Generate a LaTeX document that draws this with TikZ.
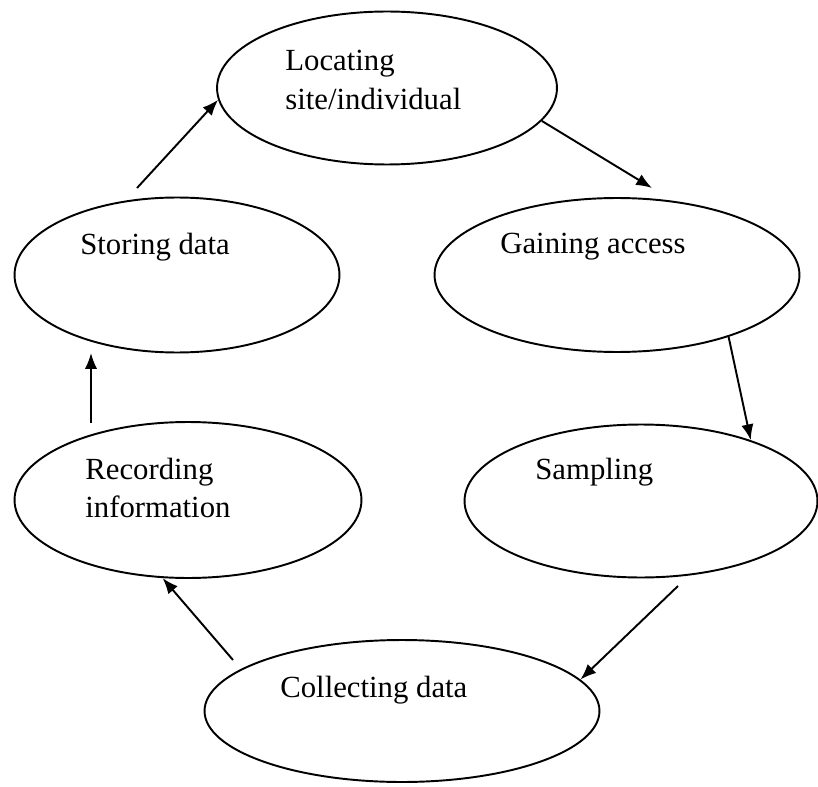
\documentclass[tikz,border=0pt]{standalone}
\usepackage{fontspec}
\setmainfont{Liberation Serif}
\usetikzlibrary{shapes,arrows.meta}
\tikzstyle{stage} = [ellipse, draw=black, line width=1.1pt, inner sep=0pt]
\tikzstyle{caption} = [anchor=west, align=left, inner sep=0pt,
    font=\fontsize{17.5}{22}\selectfont]
\tikzstyle{arrow} = [line width=1.1pt,-{Latex[length=9pt,width=7pt]}]

\begin{document}
\begin{tikzpicture}[x=0.02cm, y=-0.02cm]
\useasboundingbox (0,0) rectangle (818,787);

\node (Loc) [stage, minimum width=6.8cm, minimum height=3.06cm] at (387,88) {};
\node (Store) [stage, minimum width=6.5cm, minimum height=3.1cm] at (177,275) {};
\node (Gain) [stage, minimum width=7.3cm, minimum height=3.08cm] at (617,275) {};
\node (Rec) [stage, minimum width=6.94cm, minimum height=3.12cm] at (188,500) {};
\node (Samp) [stage, minimum width=7.06cm, minimum height=3.06cm] at (641,501) {};
\node (Coll) [stage, minimum width=7.9cm, minimum height=2.84cm] at (402,711) {};

\node (LocTxt) [caption] at (285,80) {Locating\\site/individual};
\node (StoreTxt) [caption] at (80,247) {Storing data};
\node (GainTxt) [caption] at (500,247) {Gaining access};
\node (RecTxt) [caption] at (85,488) {Recording\\information};
\node (SampTxt) [caption] at (535,472) {Sampling};
\node (CollTxt) [caption] at (280,690) {Collecting data};

\coordinate (a1) at (137,188);
\coordinate (a2) at (652,188);
\coordinate (a3) at (678,586);
\coordinate (a4) at (233,660);
\coordinate (a5) at (91,423);
\coordinate (a6) at (91,353);

\draw [arrow] (a1) -- (Loc.184);
\draw [arrow] (Loc.-12) -- (a2);
\draw [arrow] (Gain.-29) -- (Samp.29);
\draw [arrow] (a3) -- (Coll.10);
\draw [arrow] (a4) -- (Rec.-108);
\draw [arrow] (a5) -- (a6);
\end{tikzpicture}
\end{document}
